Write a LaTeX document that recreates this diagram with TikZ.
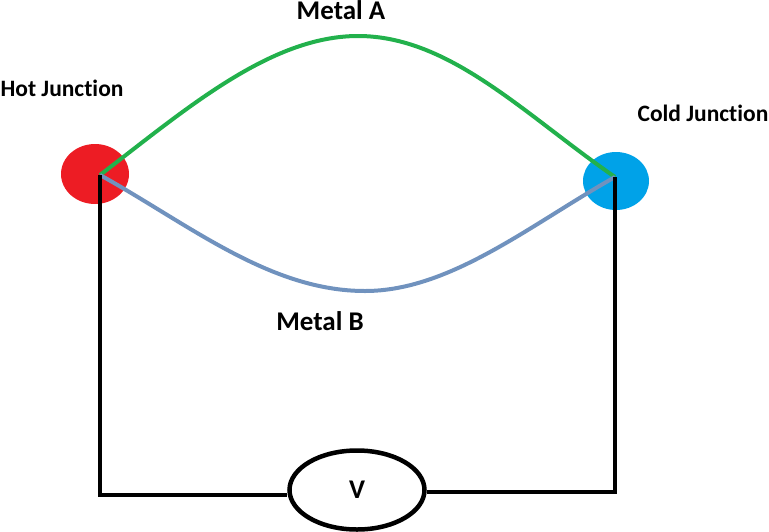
\documentclass[tikz,border=0pt]{standalone}
\usepackage{fontspec}
\setmainfont[Ligatures=NoCommon]{Carlito}
\usetikzlibrary{shapes.geometric}
\definecolor{hotred}{HTML}{ED1C24}
\definecolor{coldblue}{HTML}{00A2E8}
\definecolor{metalA}{HTML}{22B14C}
\definecolor{metalB}{HTML}{7092BE}
\tikzset{x=1pt,y=-1pt,
 lbl/.style={inner sep=0pt, text=black},
 bigl/.style={lbl,font=\bfseries\fontsize{27}{30}\selectfont},
 smalll/.style={lbl,font=\bfseries\fontsize{23.5}{28}\selectfont},
 wire/.style={line width=4pt,black},
 junc/.style={ellipse,draw=none,inner sep=0pt}}
\begin{document}
\begin{tikzpicture}
\useasboundingbox (0,0) rectangle (769,531);
\node[junc,fill=hotred,minimum width=68pt,minimum height=60pt] (hot) at (95,174) {};
\node[junc,fill=coldblue,minimum width=66pt,minimum height=58pt] (cold) at (616,181) {};
\coordinate (hp) at (100,175);
\coordinate (cp) at (615,177);
\draw[metalA,line width=4pt] (hp) .. controls (185,110) and (270,36) .. (358,36) .. controls (450,36) and (525,115) .. (cp);
\draw[metalB,line width=4pt] (hp) .. controls (190,225) and (270,291) .. (365,291) .. controls (450,291) and (530,225) .. (cp);
\node[ellipse,draw=black,line width=4.5pt,minimum width=135pt,minimum height=79pt,inner sep=0pt,font=\bfseries\fontsize{27}{30}\selectfont] (v) at (357,490) {V};
\coordinate (bl) at (100,495);
\coordinate (br) at (615,492);
\draw[wire] (hp) -- (bl) -- (v.west |- bl);
\draw[wire] (cp) -- (br) -- (v.east |- br);
\node[bigl] (a) at (341,10) {Metal A};
\node[bigl] (b) at (320,321) {Metal B};
\node[smalll] (h) at (62,88) {Hot Junction};
\node[smalll] (c) at (703,113) {Cold Junction};
\end{tikzpicture}
\end{document}
